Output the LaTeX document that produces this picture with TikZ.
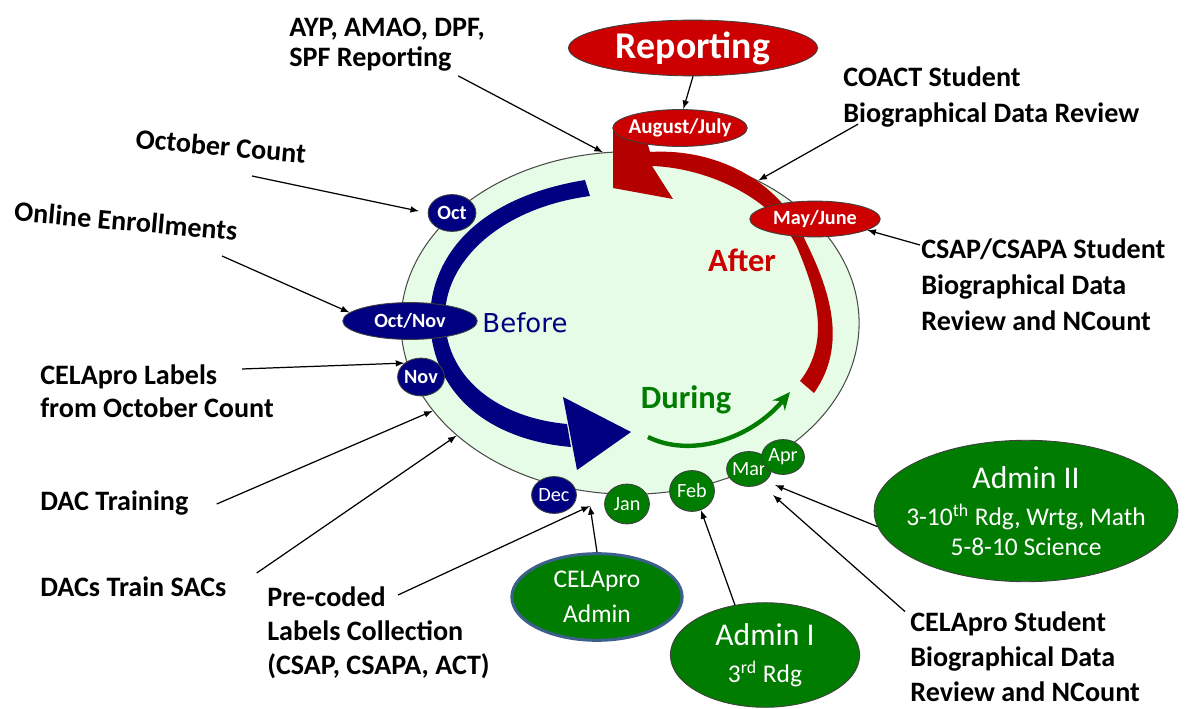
\documentclass[tikz,border=0pt]{standalone}
\usepackage{fontspec}
\setmainfont{Carlito}
\newfontfamily\tahomalike{DejaVu Sans}
\usetikzlibrary{arrows}
\usetikzlibrary{arrows.meta}
\usetikzlibrary{shapes.geometric}
\usetikzlibrary{calc}
\usetikzlibrary{positioning}
\definecolor{MonthNavy}{RGB}{0,0,128}
\definecolor{MonthGreen}{RGB}{0,125,0}
\definecolor{MonthRed}{RGB}{204,0,0}
\definecolor{BandRed}{RGB}{175,0,0}
\definecolor{PaleGreen}{RGB}{230,252,230}
\definecolor{AdminBorder}{RGB}{60,95,140}
\newcommand{\pxu}{0.5669pt}
\tikzset{
	bubble/.style={ellipse, draw=black!75, line width=0.5pt, inner sep=0pt},
	navymonth/.style={bubble, fill=MonthNavy},
	greenmonth/.style={bubble, fill=MonthGreen},
	redmonth/.style={bubble, fill=MonthRed},
	monthtext/.style={text=white, font=\bfseries\fontsize{11.5}{12}\selectfont},
	lightmonthtext/.style={text=white, font=\fontsize{11.5}{12}\selectfont},
	admintext/.style={text=white, align=center, font=\fontsize{14.5}{17}\selectfont},
	callout/.style={anchor=west, align=left, inner sep=0pt, font=\bfseries\fontsize{16}{20}\selectfont},
	pointer/.style={->, line width=0.7pt},
}

\begin{document}
\begin{tikzpicture}[x=0.02cm, y=-0.02cm, >=latex]
	\useasboundingbox (0,0) rectangle (1186,709);
	%%%%%%%%%%%%%%%%%%%%%%%%%%%%%%%%%%%%%%%%%%%%%%%%%%%%%%%%%%
	% year ring
	\node[ellipse, draw=black!70, fill=PaleGreen, line width=0.6pt, inner sep=0pt,
		minimum width=460*\pxu, minimum height=344*\pxu] (year) at (630,323) {};
	
	% before band
	\fill[MonthNavy] (585,180) .. controls (475,198) and (430,258) .. (430,320)
		.. controls (432,395) and (490,440) .. (571,447) -- (567,424)
		.. controls (500,418) and (447,380) .. (445,320)
		.. controls (443,262) and (500,208) .. (590,196) -- cycle;
	\fill[MonthNavy] (563,397) -- (631,432) -- (577,470) -- cycle;
	
	% after band
	\fill[BandRed!80!MonthRed] (613,125) -- (613,188) -- (673,199) -- (652,166)
		.. controls (710,168) and (775,200) .. (797,247)
		.. controls (815,290) and (832,340) .. (800,381) -- (814,393)
		.. controls (848,345) and (830,290) .. (805,240)
		.. controls (780,180) and (715,148) .. (650,152) -- (640,118) -- cycle;
	
	% during arrow
	\draw[MonthGreen, line width=2.5pt, -{Stealth[length=10pt, width=9pt]}]
		(648,437) .. controls (690,458) and (750,440) .. (790,392);
	
	% phase names
	\node[text=MonthNavy, font=\tahomalike\fontsize{14.8}{16}\selectfont] (before) at (525,323) {Before};
	\node[text=MonthRed, font=\bfseries\fontsize{18.5}{20}\selectfont] (after) at (742,260) {After};
	\node[text=MonthGreen, font=\bfseries\fontsize{18.5}{20}\selectfont] (during) at (686,400) {During};
	
	%%%%%%%%%%%%%%%%%%%%%%%%%%%%%%%%%%%%%%%%%%%%%%%%%%%%%%%%%%
	% months
	\node[navymonth, minimum width=48*\pxu, minimum height=37*\pxu, label={[monthtext]center:Oct}] (oct) at (452,213) {};
	\node[navymonth, minimum width=135*\pxu, minimum height=37*\pxu, label={[monthtext]center:Oct/Nov}] (octnov) at (410,321) {};
	\node[navymonth, minimum width=47*\pxu, minimum height=38*\pxu, label={[monthtext]center:Nov}] (nov) at (421,377) {};
	\node[navymonth, minimum width=45*\pxu, minimum height=37*\pxu, label={[lightmonthtext]center:Dec}] (dec) at (554,495) {};
	\node[greenmonth, minimum width=45*\pxu, minimum height=40*\pxu, label={[lightmonthtext]center:Jan}] (jan) at (627,504) {};
	\node[greenmonth, minimum width=45*\pxu, minimum height=41*\pxu, label={[lightmonthtext]center:Feb}] (feb) at (692,491) {};
	\node[greenmonth, minimum width=45*\pxu, minimum height=35*\pxu, label={[lightmonthtext]center:Mar}] (mar) at (749,469) {};
	\node[greenmonth, minimum width=43*\pxu, minimum height=35*\pxu, label={[lightmonthtext]center:Apr}] (apr) at (783,457) {};
	\node[redmonth, minimum width=131*\pxu, minimum height=36*\pxu, label={[monthtext]center:May/June}] (may) at (815,219) {};
	\node[redmonth, minimum width=135*\pxu, minimum height=37*\pxu, label={[monthtext, font=\bfseries\fontsize{12}{13}\selectfont]center:August/July}] (aug) at (680,128) {};
	
	% reporting
	\node[redmonth, minimum width=250*\pxu, minimum height=56*\pxu, label={[text=white, font=\bfseries\fontsize{21.5}{24}\selectfont]center:Reporting}] (rep) at (693,48) {};
	
	% administrations
	\node[greenmonth, minimum width=305*\pxu, minimum height=142*\pxu,
		label={[admintext]center:{\fontsize{18}{17}\selectfont Admin II}\\[4pt]3-10\textsuperscript{th} Rdg, Wrtg, Math\\5-8-10 Science}] (adm2) at (1026,511) {};
	\node[greenmonth, draw=AdminBorder, line width=1.7pt, minimum width=171*\pxu, minimum height=87*\pxu,
		label={[admintext, font=\fontsize{14.5}{20}\selectfont]center:CELApro\\Admin}] (celadm) at (597,597) {};
	\node[greenmonth, minimum width=190*\pxu, minimum height=105*\pxu,
		label={[admintext]center:{\fontsize{18}{17}\selectfont Admin I}\\[4pt]3\textsuperscript{rd} Rdg}] (adm1) at (765,655) {};
	
	%%%%%%%%%%%%%%%%%%%%%%%%%%%%%%%%%%%%%%%%%%%%%%%%%%%%%%%%%%
	% callouts
	\node[callout, font=\bfseries\fontsize{16}{17}\selectfont] (ayp) at (289,45) {AYP, AMAO, DPF,\\SPF Reporting};
	\node[callout] (coact) at (843,97) {COACT Student\\Biographical Data Review};
	\node[callout, anchor=center, rotate=-5] (octc) at (221,146) {October Count};
	\node[callout, anchor=center, rotate=-5] (online) at (126,221) {Online Enrollments};
	\node[callout, font=\bfseries\fontsize{16}{19}\selectfont] (celabels) at (40,391) {CELApro Labels\\from October Count};
	\node[callout] (dactr) at (40,503) {DAC Training};
	\node[callout] (dacs) at (40,587) {DACs Train SACs};
	\node[callout, font=\bfseries\fontsize{16}{19.5}\selectfont] (precoded) at (267,633) {Pre-coded\\Labels Collection\\(CSAP, CSAPA, ACT)};
	\node[callout, font=\bfseries\fontsize{16}{20.4}\selectfont] (csap) at (921,285) {CSAP/CSAPA Student\\Biographical Data\\Review and NCount};
	\node[callout] (celstud) at (910,657) {CELApro Student\\Biographical Data\\Review and NCount};
	
	% free ends
	\coordinate (decjan) at (590,506);
	\coordinate (aprin) at (775,485);
	\coordinate (aprin2) at (773,495);
	
	% pointers
	\draw[pointer] ($(ayp.south east)+(-27,4)$) -- (year.99);
	\draw[pointer] (rep.south) -- (aug.80);
	\draw[pointer, shorten >=5pt] ($(octc.center)+(31,30)$) -- (oct.west);
	\draw[pointer] ($(online.center)+(96,35)$) -- (octnov.172);
	\draw[pointer] ($(celabels.west)+(202,-22)$) -- (nov.140);
	\draw[pointer] ($(dactr.east)+(28,1)$) -- (year.204);
	\draw[pointer] ($(dacs.east)+(30,-14)$) -- (year.213);
	\draw[pointer] ($(precoded.west)+(131,-38)$) -- (decjan);
	\draw[pointer] (celadm.north) -- (decjan);
	\draw[pointer] (adm1.121) -- (feb.-65);
	\draw[pointer] (adm2.186) -- (aprin);
	\draw[pointer] ($(celstud.north west)+(-5,0)$) -- (aprin2);
	\draw[pointer] ($(csap.west)+(-1,-40)$) -- (may.-12);
	\draw[pointer] ($(coact.south west)+(15,-3)$) -- (year.48);
	
\end{tikzpicture}
\end{document}
